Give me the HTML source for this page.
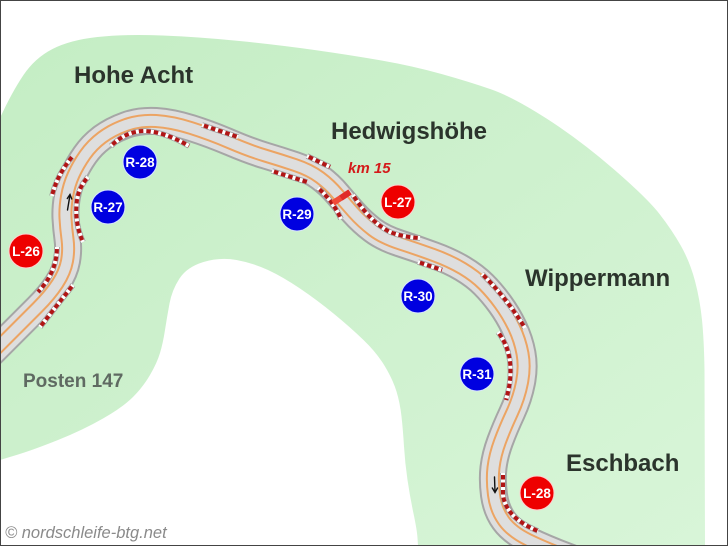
<!DOCTYPE html>
<html><head><meta charset="utf-8"><style>
html,body{margin:0;padding:0;background:#fff;}
svg{display:block;}
text{font-family:"Liberation Sans",Arial,sans-serif;}
</style></head><body>
<svg width="728" height="546" viewBox="0 0 728 546" xmlns="http://www.w3.org/2000/svg">
<defs>
<linearGradient id="g" x1="0" y1="0" x2="1" y2="1">
<stop offset="0" stop-color="#c4edc4"/>
<stop offset="1" stop-color="#d8f5d8"/>
</linearGradient>
<path id="trk" d="M-10,355 L7.5,337.5 Q25,320 37.5,307.5 Q50,295 57.5,283.5 Q65,272 67,261 Q69,250 67.5,239 Q66,228 65.5,218 Q65,208 67,196.5 Q69,185 73.5,175 Q78,165 85,155 Q92,145 102,137.5 Q112,130 126,125 Q140,120 156,121 Q172,122 191,128 Q210,134 230,142.5 Q250,151 265,155.5 Q280,160 295,165 Q310,170 320,177.5 Q330,185 337.5,194 Q345,203 353.5,212.5 Q362,222 372.5,230 Q383,238 400,243.5 Q417,249 433.5,255 Q450,261 462.5,268.5 Q475,276 483.5,284.5 Q492,293 500,304 Q508,315 514,327.5 Q520,340 522.5,353.5 Q525,367 522,382.5 Q519,398 512,413 Q505,428 500,441.5 Q495,455 493.5,467.5 Q492,480 494,495 Q496,510 504,521 Q512,532 528.5,540 Q545,548 567.5,556.5 L590,565"/>
<path id="c1" d="M52,196 Q57,175 72,157"/>
<path id="c2" d="M83,242 Q74,222 77,200 Q79,187 88,177"/>
<path id="c3" d="M111,146 Q126,131 145,131 Q165,132 189,146"/>
<path id="c4" d="M202,125 L238,137"/>
<path id="c5" d="M57,247 Q57,272 38,292"/>
<path id="c6" d="M73,285 L40,327"/>
<path id="c7" d="M307,156 L330,167"/>
<path id="c8" d="M272,171 L307,182"/>
<path id="c9" d="M318,188 Q333,201 341,219"/>
<path id="c10" d="M353,195 Q370,222 390,232 Q402,237 420,238"/>
<path id="c11" d="M418,262 L442,270"/>
<path id="c12" d="M482,274 Q505,296 525,328"/>
<path id="c13" d="M498,332 Q518,358 506,400"/>
<path id="c14" d="M503,473 L503,495 Q506,518 538,531"/>
</defs>
<rect x="0" y="0" width="728" height="546" fill="#fff"/>
<path fill="url(#g)" d="M0,118 Q12,92 23.5,75 Q35,58 52.5,49 Q70,40 97.5,37 Q125,34 162.5,35.5 Q200,37 239.5,41 Q279,45 314.5,50 Q350,55 381.5,60.5 Q413,66 441.5,74 Q470,82 491.5,89.5 Q513,97 546.5,118.5 Q580,140 613.5,169 Q647,198 659.5,214 Q672,230 681,246 Q690,262 695,281 Q700,300 702,320 Q704,340 704.5,370 L705,546 L418,546 L417.5,538 Q417,530 413.5,513.5 Q410,497 407.5,480 Q405,463 404,446.5 Q403,430 401.5,416.5 Q400,403 396.5,391.5 Q393,380 385,366.5 Q377,353 363.5,340 Q350,327 333.5,313.5 Q317,300 300,288.5 Q283,277 268,270 Q253,263 236.5,260 Q220,257 203.5,262 Q187,267 179.5,278.5 Q172,290 169.5,303.5 Q167,317 165,330 Q163,343 160,353 Q157,363 150,375 Q143,387 133,397 Q123,407 103,418.5 Q83,430 58,440 Q33,450 16.5,455 L0,460 Z"/>

<g fill="none" stroke-linejoin="round" stroke-linecap="butt">
<use href="#trk" stroke="#a6a6a6" stroke-width="28"/>
<use href="#trk" stroke="#dedede" stroke-width="24"/>
<use href="#trk" stroke="#eca463" stroke-width="14"/>
<use href="#trk" stroke="#dedede" stroke-width="10"/>
</g>

<!-- curbs -->
<g fill="none" stroke-linecap="butt">
<g stroke="#9a9a9a" stroke-width="5.5">
<use href="#c1"/><use href="#c2"/><use href="#c3"/><use href="#c4"/><use href="#c5"/><use href="#c6"/><use href="#c7"/><use href="#c8"/><use href="#c9"/><use href="#c10"/><use href="#c11"/><use href="#c12"/><use href="#c13"/><use href="#c14"/>
</g>
<g stroke="#fff" stroke-width="4">
<use href="#c1"/><use href="#c2"/><use href="#c3"/><use href="#c4"/><use href="#c5"/><use href="#c6"/><use href="#c7"/><use href="#c8"/><use href="#c9"/><use href="#c10"/><use href="#c11"/><use href="#c12"/><use href="#c13"/><use href="#c14"/>
</g>
<g stroke="#b01515" stroke-width="4" stroke-dasharray="4.5 3" stroke-dashoffset="-2">
<use href="#c1"/><use href="#c2"/><use href="#c3"/><use href="#c4"/><use href="#c5"/><use href="#c6"/><use href="#c7"/><use href="#c8"/><use href="#c9"/><use href="#c10"/><use href="#c11"/><use href="#c12"/><use href="#c13"/><use href="#c14"/>
</g>
</g>

<!-- km 15 marker -->
<line x1="333" y1="203" x2="350" y2="192" stroke="#f04a38" stroke-width="6"/>
<line x1="341" y1="198" x2="350" y2="192" stroke="#e02a28" stroke-width="6"/>

<!-- arrows -->
<g stroke="#111" stroke-width="1.4" fill="none" stroke-linecap="round">
<path d="M67.5,210 L70,195"/>
<path d="M67.3,198.5 L70,194.5 L71.8,199"/>
<path d="M494.5,477 L495,492"/>
<path d="M492.3,488 L495,492.5 L497.5,488"/>
</g>

<!-- markers -->
<g stroke="#d8e4ff" stroke-width="1">
<circle cx="140" cy="162" r="17" fill="#0000e0"/>
<circle cx="108" cy="207" r="17" fill="#0000e0"/>
<circle cx="297" cy="214" r="17" fill="#0000e0"/>
<circle cx="418" cy="296" r="17" fill="#0000e0"/>
<circle cx="477" cy="374" r="17" fill="#0000e0"/>
</g>
<g stroke="#ffd0d0" stroke-width="1">
<circle cx="26" cy="251" r="17" fill="#ee0000"/>
<circle cx="398" cy="202" r="17" fill="#ee0000"/>
<circle cx="537" cy="493" r="17" fill="#ee0000"/>
</g>
<g fill="#fff" font-weight="bold" font-size="13.5" text-anchor="middle">
<text x="140" y="167">R-28</text>
<text x="108" y="212">R-27</text>
<text x="297" y="219">R-29</text>
<text x="418" y="301">R-30</text>
<text x="477" y="379">R-31</text>
<text x="26" y="256">L-26</text>
<text x="398" y="207">L-27</text>
<text x="537" y="498">L-28</text>
</g>

<!-- labels -->
<g fill="#2b342c" font-weight="bold" font-size="24">
<text x="74" y="83">Hohe Acht</text>
<text x="331" y="139">Hedwigshöhe</text>
<text x="525" y="286">Wippermann</text>
<text x="566" y="471">Eschbach</text>
</g>
<text x="23" y="387" fill="#5f6a62" font-weight="bold" font-size="19">Posten 147</text>
<text x="348" y="173" fill="#d41a1a" font-weight="bold" font-style="italic" font-size="15">km 15</text>
<text x="5" y="538" fill="#8a8a8a" font-style="italic" font-size="16.5">© nordschleife-btg.net</text>

<rect x="0.5" y="0.5" width="727" height="545" fill="none" stroke="#444" stroke-width="1"/>
</svg>
</body></html>
